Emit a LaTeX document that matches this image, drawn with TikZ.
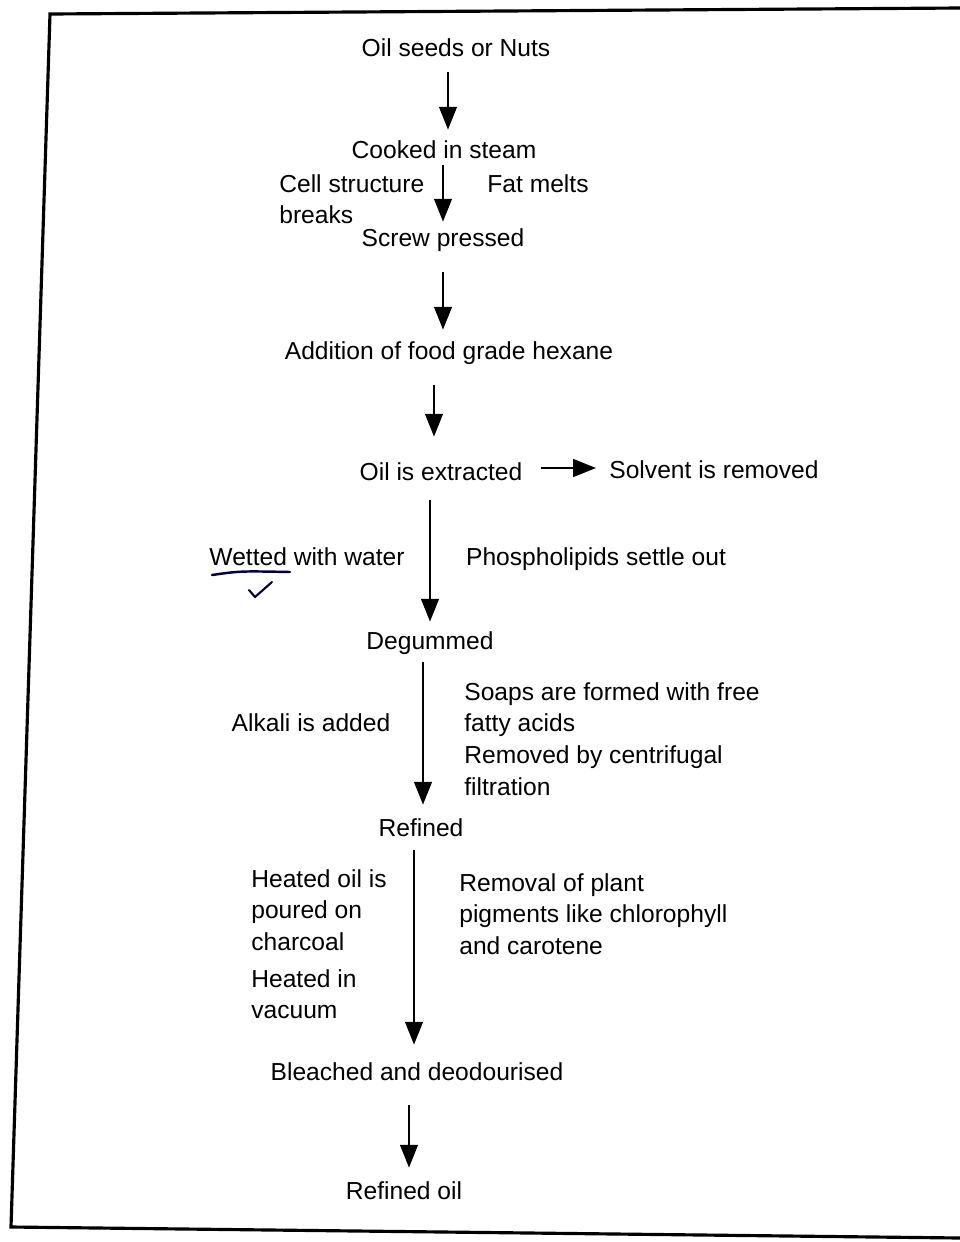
\documentclass[tikz,border=0pt]{standalone}
\usepackage{fontspec}
\setmainfont{Liberation Sans}
\usetikzlibrary{arrows.meta}

\begin{document}
\begin{tikzpicture}[x=0.02cm, y=-0.02cm,
	stage/.style={ inner sep=0pt, anchor=base, text height=10pt, text depth=3pt, font=\fontsize{14}{18}\selectfont },
	note/.style={ inner sep=0pt, anchor=base, font=\fontsize{14}{18}\selectfont },
	block/.style={ inner sep=0pt, anchor=north west, align=left, font=\fontsize{14}{18}\selectfont },
	flow/.style={ line width=1.4pt, -{Triangle[length=13pt, width=10pt]} },
	frame/.style={ line width=1.8pt, line join=miter }
]

\useasboundingbox (0,0) rectangle (960,1242);
\draw[frame] (960,8) -- (50,14) -- (11,1227) -- (960,1238);

% main stages
\node[stage] at (456,56) (st1) {Oil seeds or Nuts};
\node[stage] at (444,158) (st2) {Cooked in steam};
\node[stage] at (443,246) (st3) {Screw pressed};
\node[stage] at (449,359) (st4) {Addition of food grade hexane};
\node[stage] at (441,480) (st5) {Oil is extracted};
\node[stage] at (714,478) (st5r) {Solvent is removed};
\node[stage] at (430,649) (st6) {Degummed};
\node[stage] at (421,836) (st7) {Refined};
\node[stage] at (417,1080) (st8) {Bleached and deodourised};
\node[stage] at (404,1199) (st9) {Refined oil};

% side notes
\node[block] at (279,174) (nt1) {Cell structure\\breaks};
\node[note] at (538,192) (nt2) {Fat melts};
\node[note] at (307,565) (nt3) {Wetted with water};
\node[note] at (596,565) (nt4) {Phospholipids settle out};
\node[note] at (311,731) (nt5) {Alkali is added};
\node[block] at (464,682) (nt6) {Soaps are formed with free\\fatty acids\\Removed by centrifugal\\filtration};
\node[block] at (251,869) (nt7) {Heated oil is\\poured on\\charcoal\\[3pt]Heated in\\vacuum};
\node[block] at (459,873) (nt8) {Removal of plant\\pigments like chlorophyll\\and carotene};

% pen marks
\draw[line width=1.4pt, color=black!75!blue, line cap=round] (212,575) .. controls (240,571) .. (290,572);
\draw[line width=1.2pt, color=black!75!blue, line cap=round, line join=round] (249,590) -- (255,597) -- (272,582);

\foreach \a/\b/\x/\s/\e in {st1/st2/448/10.7/10.4, st2/st3/443/1.7/6.4, st3/st4/443/20.7/11.4, st4/st5/434/20.7/25.4, st5/st6/430/14.7/9.4, st6/st7/423/7.7/13.4, st7/st8/414/8.7/17.4, st8/st9/409/19.7/13.4}
	\draw[flow, shorten <=\s*0.569pt, shorten >=\e*0.569pt] (\a.south -| \x,0) -- (\b.north -| \x,0);
\draw[flow, shorten <=18*0.569pt, shorten >=13*0.569pt] (st5.east |- 0,468) -- (st5r.west |- 0,468);

\end{tikzpicture}
\end{document}
